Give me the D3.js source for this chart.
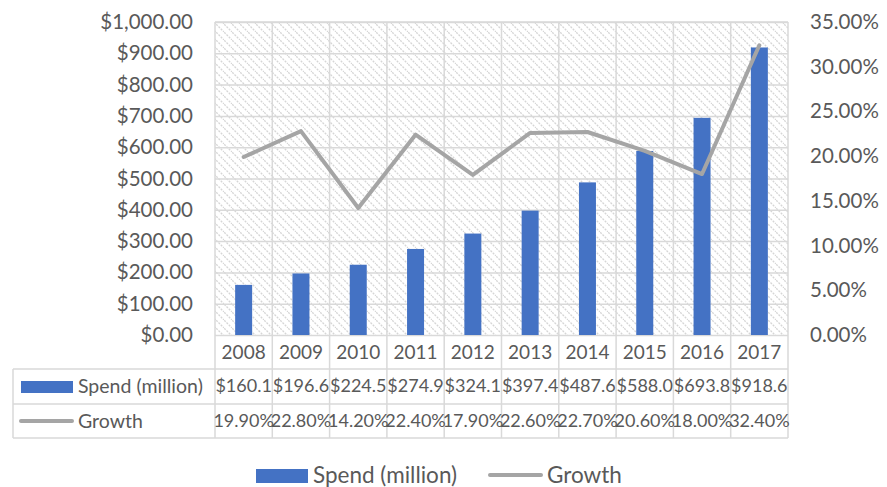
<!DOCTYPE html>
<html><head><meta charset="utf-8">
<script src="https://cdn.jsdelivr.net/npm/d3@7"></script>
<style>
html,body{margin:0;padding:0;background:#fff;}
svg{display:block;font-family:Lato, "Open Sans", sans-serif;}
</style></head>
<body>
<svg id="chart" width="887" height="487"></svg>
<script>
const years = ["2008","2009","2010","2011","2012","2013","2014","2015","2016","2017"];
const spend = [160.1,196.6,224.5,274.9,324.1,397.4,487.6,588.0,693.8,918.6];
const growth = [19.9,22.8,14.2,22.4,17.9,22.6,22.7,20.6,18.0,32.4];
const spendLabels = ["$160.1","$196.6","$224.5","$274.9","$324.1","$397.4","$487.6","$588.0","$693.8","$918.6"];
const growthLabels = ["19.90%","22.80%","14.20%","22.40%","17.90%","22.60%","22.70%","20.60%","18.00%","32.40%"];
const leftTicks = [0,100,200,300,400,500,600,700,800,900,1000];
const rightTicks = [0,5,10,15,20,25,30,35];
const seriesNames = ["Spend (million)","Growth"];

const svg = d3.select("#chart");
const L = 215, R = 788, T = 22, B = 335;
const textColor = "#595959", gridColor = "#d9d9d9";
const blue = "#4472C4", gray = "#A5A5A5";
const fs = 20.5, tfs = 19, rfs = 18, lfs = 22.5;

const x = d3.scaleBand().domain(years).range([L, R]).paddingInner(0).paddingOuter(0);
const y = d3.scaleLinear().domain([0, 1000]).range([B, T]);
const y2 = d3.scaleLinear().domain([0, 35]).range([B, T]);

// hatch pattern
const defs = svg.append("defs");
const pat = defs.append("pattern").attr("id","hatch").attr("patternUnits","userSpaceOnUse")
  .attr("width",8).attr("height",8);
pat.append("rect").attr("width",8).attr("height",8).attr("fill","#fff");
pat.append("path").attr("d","M-2,-2 L10,10 M-2,6 L2,10 M6,-2 L10,2")
  .attr("stroke","#d6d6d6").attr("stroke-width",1.3).attr("stroke-dasharray","2,1.2");

svg.append("rect").attr("x",L).attr("y",T).attr("width",R-L).attr("height",B-T).attr("fill","url(#hatch)");

// horizontal gridlines
const gy = d3.axisLeft(y).tickValues(leftTicks).tickSize(-(R-L)).tickFormat("");
svg.append("g").attr("transform",`translate(${L},0)`).call(gy)
  .call(g=>g.select(".domain").remove())
  .call(g=>g.selectAll("line").attr("stroke",gridColor).attr("stroke-width",1.5));

// vertical gridlines through plot + table
const bounds = years.map(d=>x(d)).concat([R]);
svg.append("g").selectAll("line").data(bounds).join("line")
  .attr("x1",d=>d).attr("x2",d=>d).attr("y1",T).attr("y2",438)
  .attr("stroke",gridColor).attr("stroke-width",1.5);

// plot top border
svg.append("line").attr("x1",L).attr("x2",R).attr("y1",T).attr("y2",T).attr("stroke",gridColor).attr("stroke-width",1.5);

// table horizontal lines
const rowLines = [369, 404, 438];
svg.append("g").selectAll("line").data(rowLines).join("line")
  .attr("x1",13).attr("x2",R).attr("y1",d=>d).attr("y2",d=>d)
  .attr("stroke",gridColor).attr("stroke-width",1.5);
svg.append("line").attr("x1",13).attr("x2",13).attr("y1",369).attr("y2",438).attr("stroke",gridColor).attr("stroke-width",1.5);

// bars
const bw = 17;
svg.append("g").selectAll("rect").data(spend).join("rect")
  .attr("x",(d,i)=>x(years[i])+x.bandwidth()/2-bw/2)
  .attr("width",bw)
  .attr("y",d=>y(d)).attr("height",d=>B-y(d)).attr("fill",blue);

// growth line
const line = d3.line().x((d,i)=>x(years[i])+x.bandwidth()/2).y(d=>y2(d));
svg.append("path").datum(growth).attr("d",line).attr("fill","none")
  .attr("stroke",gray).attr("stroke-width",4).attr("stroke-linejoin","round").attr("stroke-linecap","round");

// left axis
const la = d3.axisLeft(y).tickValues(leftTicks).tickSize(0).tickPadding(22)
  .tickFormat(d=>"$"+d3.format(",.2f")(d));
svg.append("g").attr("transform",`translate(${L},0)`).call(la)
  .call(g=>g.select(".domain").remove())
  .call(g=>g.selectAll("text").attr("fill",textColor).style("font-size",fs+"px").style("font-family","Lato, sans-serif"));

// right axis
const ra = d3.axisRight(y2).tickValues(rightTicks).tickSize(0).tickPadding(22)
  .tickFormat(d=>d3.format(".2f")(d)+"%");
svg.append("g").attr("transform",`translate(${R},0)`).call(ra)
  .call(g=>g.select(".domain").remove())
  .call(g=>g.selectAll("text").attr("fill",textColor).style("font-size",fs+"px").style("font-family","Lato, sans-serif"));

// category row
svg.append("g").selectAll("text").data(years).join("text")
  .attr("x",d=>x(d)+x.bandwidth()/2).attr("y",352).attr("dy","0.35em")
  .attr("text-anchor","middle").attr("fill",textColor).style("font-size",tfs+"px").text(d=>d);

// table rows
svg.append("g").selectAll("text").data(spendLabels).join("text")
  .attr("x",(d,i)=>x(years[i])+x.bandwidth()/2).attr("y",386).attr("dy","0.35em")
  .attr("text-anchor","middle").attr("fill",textColor).style("font-size",rfs+"px").text(d=>d);
svg.append("g").selectAll("text").data(growthLabels).join("text")
  .attr("x",(d,i)=>x(years[i])+x.bandwidth()/2).attr("y",421).attr("dy","0.35em")
  .attr("text-anchor","middle").attr("fill",textColor).style("font-size",rfs+"px").text(d=>d);

// table legend keys
svg.append("rect").attr("x",21).attr("y",381).attr("width",52).attr("height",12).attr("fill",blue);
svg.append("text").attr("x",78).attr("y",386).attr("dy","0.35em").attr("fill",textColor).style("font-size","19.5px").text(seriesNames[0]);
svg.append("line").attr("x1",21).attr("x2",72).attr("y1",421).attr("y2",421).attr("stroke",gray).attr("stroke-width",4).attr("stroke-linecap","round");
svg.append("text").attr("x",78).attr("y",421).attr("dy","0.35em").attr("fill",textColor).style("font-size","19.5px").text(seriesNames[1]);

// bottom legend
svg.append("rect").attr("x",256).attr("y",469).attr("width",52).attr("height",14).attr("fill",blue);
svg.append("text").attr("x",313).attr("y",475).attr("dy","0.35em").attr("fill",textColor).style("font-size",lfs+"px").text(seriesNames[0]);
svg.append("line").attr("x1",490).attr("x2",541).attr("y1",475).attr("y2",475).attr("stroke",gray).attr("stroke-width",4).attr("stroke-linecap","round");
svg.append("text").attr("x",547).attr("y",475).attr("dy","0.35em").attr("fill",textColor).style("font-size",lfs+"px").text(seriesNames[1]);
</script>
</body></html>
